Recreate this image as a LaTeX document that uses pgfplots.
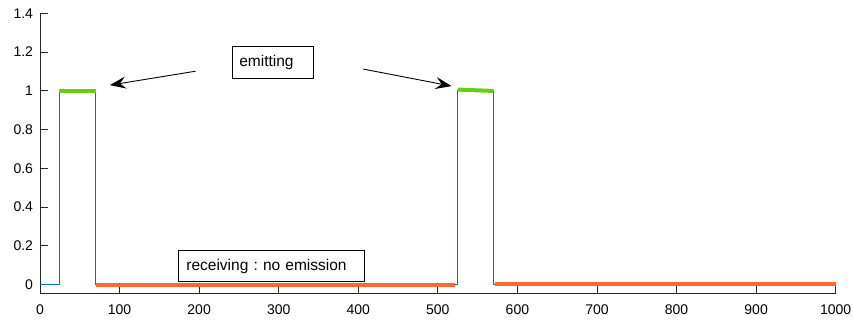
\documentclass[border=0pt]{standalone}
\usepackage{pgfplots}
\pgfplotsset{compat=1.18}
\usepackage{fontspec}
\setmainfont{Liberation Sans}
\usetikzlibrary{arrows.meta}
\definecolor{mblue}{HTML}{0072BD}
\definecolor{mgreen}{RGB}{102,204,20}
\definecolor{morange}{RGB}{255,105,45}
\definecolor{axgray}{gray}{0.15}
\frenchspacing
\begin{document}
\begin{tikzpicture}
\begin{axis}[
  scale only axis,
  width=795.7bp, height=280bp,
  xmin=0, xmax=1000, ymin=-0.046, ymax=1.4,
  axis lines*=left,
  axis line style={axgray, line width=0.8bp},
  tick style={axgray, line width=0.8bp},
  tick align=inside,
  major tick length=8bp,
  xtick={0,100,...,1000},
  ytick={0,0.2,...,1.4},
  yticklabels={0,0.2,0.4,0.6,0.8,1,1.2,1.4},
  font=\fontsize{14bp}{16bp}\selectfont,
  /pgf/number format/assume math mode=true,
  /pgf/number format/1000 sep={},
  xticklabel style={yshift=-8bp},
  yticklabel style={xshift=-3.5bp},
  clip=false,
]
\addplot[mblue, line width=0.9bp] coordinates {
  (0,0) (24,0) (24,1) (70,1) (70,0) (524,0) (524,1) (570,1) (570,0) (1000,0)
};
\addplot[mgreen, line width=4bp] coordinates {(24,1) (70,1)};
\addplot[mgreen, line width=4bp] coordinates {(525,1.006) (570,0.999)};
\addplot[morange, line width=4bp] coordinates {(71,-0.003) (521,-0.003)};
\addplot[morange, line width=4bp] coordinates {(572,0) (1000,0)};

\draw[black, line width=0.9bp, -{Stealth[length=16bp,width=12bp,inset=6bp]}] (axis cs:195.6,1.101) -- (axis cs:87.9,1.029);
\draw[black, line width=0.9bp, -{Stealth[length=16bp,width=12bp,inset=6bp]}] (axis cs:406.2,1.112) -- (axis cs:517.2,1.024);

\node[draw=black, line width=0.8bp, fill=white, anchor=west, inner xsep=7bp, text width=67bp, minimum height=31.6bp, align=left, font=\fontsize{15.5bp}{18bp}\selectfont] at (axis cs:241.2,1.145) {emitting};
\node[draw=black, line width=0.8bp, fill=white, anchor=west, inner xsep=8bp, text width=170bp, minimum height=31.6bp, align=left, font=\fontsize{15.5bp}{18bp}\selectfont] at (axis cs:173.4,0.095) {receiving : no emission};

\coordinate (bl) at (rel axis cs:0,0);
\coordinate (tr) at (rel axis cs:1,1);
\end{axis}
\pgfresetboundingbox
\path ([shift={(-40bp,-28.7bp)}]bl) rectangle ([shift={(17.3bp,13.3bp)}]tr);
\end{tikzpicture}
\end{document}
